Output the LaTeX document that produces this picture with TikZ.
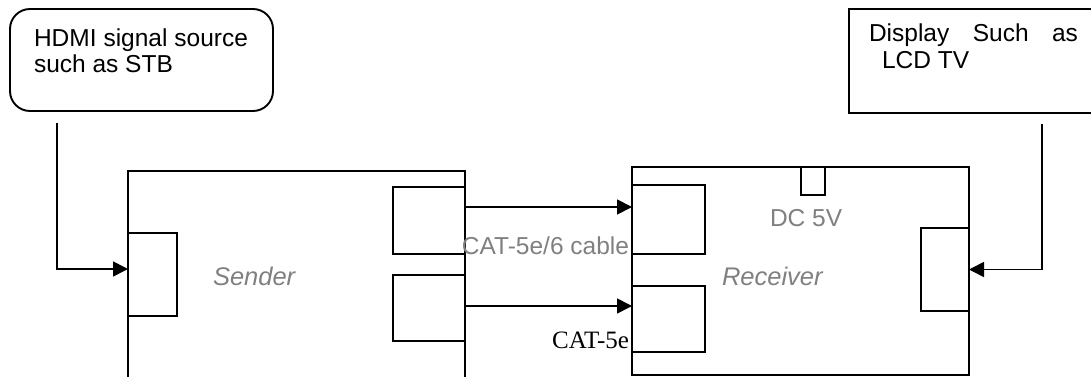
\documentclass[tikz,border=0pt]{standalone}
\usepackage{fontspec}
\setmainfont{Liberation Sans}
\newfontfamily\timesfont{Liberation Serif}
\usetikzlibrary{arrows.meta}
\definecolor{labelgray}{RGB}{128,128,128}
\tikzset{
  boxline/.style={draw=black, line width=1.9pt, inner sep=0pt, outer sep=0pt, anchor=north west},
  conn/.style={draw=black, line width=1.7pt, -{Triangle[length=15pt,width=15pt]}},
  txt/.style={inner sep=0pt, outer sep=0pt, anchor=base west, font=\fontsize{24.5}{28}\selectfont},
  graytxt/.style={txt, text=labelgray},
}
\begin{document}
\begin{tikzpicture}[x=1pt,y=-1pt]
\clip (0,0) rectangle (1091,377);
% main boxes
\node[boxline, rounded corners=20pt, minimum width=263pt, minimum height=102pt] (src) at (10,9) {};
\node[boxline, minimum width=260pt, minimum height=104pt] (disp) at (849,9) {};
\node[boxline, minimum width=337pt, minimum height=240pt] (sender) at (128,171) {};
\node[boxline, minimum width=337pt, minimum height=208pt] (recv) at (632,167) {};
% ports
\node[boxline, minimum width=49pt, minimum height=83pt] (sp) at (128,233) {};
\node[boxline, minimum width=72pt, minimum height=67pt] (st) at (393,187) {};
\node[boxline, minimum width=72pt, minimum height=66pt] (sb) at (393,275) {};
\node[boxline, minimum width=73pt, minimum height=69pt] (rt) at (632,185) {};
\node[boxline, minimum width=73pt, minimum height=66pt] (rb) at (632,286) {};
\node[boxline, minimum width=24pt, minimum height=28pt] (dc) at (801,167) {};
\node[boxline, minimum width=48pt, minimum height=83pt] (rp) at (921,228) {};
% texts
\node[txt] (srct1) at (34,47) {\makebox[214pt][s]{HDMI signal source}};
\node[txt] (srct2) at (34,73) {such as STB};
\node[txt] (dispt1) at (869,42) {\makebox[209pt][s]{Display Such as}};
\node[txt] (dispt2) at (882,69) {LCD TV};
\node[graytxt, font=\fontsize{25.5}{28}\selectfont\itshape] (sendt) at (213,285) {Sender};
\node[graytxt, font=\fontsize{25.5}{28}\selectfont\itshape] (recvt) at (722,285) {Receiver};
\node[graytxt] (dct) at (770,226) {DC 5V};
\node[graytxt, anchor=base east] (cablet) at (629,254) {CAT-5e/6 cable};
\node[txt, anchor=base east, font=\fontsize{25}{28}\selectfont\timesfont] (cat5t) at (629,348) {CAT-5e};
% connectors
\coordinate (srcdrop) at (57,123);
\coordinate (dispdrop) at (1042,124);
\draw[conn] (srcdrop) |- (sp.west |- 0,269);
\draw[conn] (dispdrop) |- (rp.east);
\draw[conn] (st.east |- 0,207) -- (rt.west |- 0,207);
\draw[conn] (sb.east |- 0,306) -- (rb.west |- 0,306);
\end{tikzpicture}
\end{document}
